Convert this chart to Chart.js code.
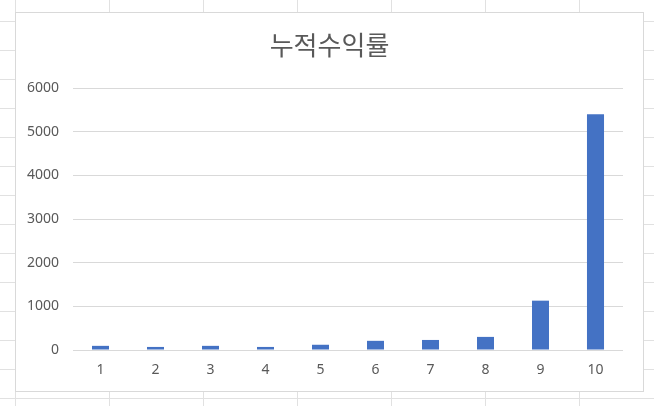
<!DOCTYPE html>
<html>
<head>
<meta charset="utf-8">
<script src="https://cdn.jsdelivr.net/npm/chart.js@4"></script>
<style>
  html, body {
    margin: 0;
    padding: 0;
    width: 654px;
    height: 406px;
    overflow: hidden;
    background-color: #ffffff;
    /* spreadsheet cell grid behind the chart */
    background-image:
      linear-gradient(to right, #e1e1e1 1px, transparent 1px),
      linear-gradient(to bottom, #e1e1e1 1px, transparent 1px);
    background-size: 94px 29px;
    background-position: 15px 21px;
  }
  #frame {
    position: absolute;
    left: 15px;
    top: 12px;
    width: 627px;
    height: 378px;
    background: #ffffff;
    border: 1px solid #d9d9d9;
  }
  #wrap {
    position: absolute;
    left: 0;
    top: 0;
    width: 654px;
    height: 406px;
  }
</style>
</head>
<body>
<div id="frame"></div>
<div id="wrap"><canvas id="chart"></canvas></div>
<script>
const chartTitle = "누적수익률";
const categories = ["1", "2", "3", "4", "5", "6", "7", "8", "9", "10"];
const returns = [95, 70, 95, 70, 120, 210, 230, 300, 1130, 5400];
const yTicks = [0, 1000, 2000, 3000, 4000, 5000, 6000];

const textColor = "#595959";
const gridColor = "#d9d9d9";
const barColor = "#4472c4";

// title centred over the chart frame, not over the plot area
const frameTitle = {
  id: "frameTitle",
  afterDraw(chart) {
    const ctx = chart.ctx;
    ctx.save();
    ctx.fillStyle = textColor;
    ctx.font = "26px 'Noto Sans CJK KR', 'Noto Sans', sans-serif";
    ctx.textAlign = "center";
    ctx.textBaseline = "middle";
    ctx.fillText(chartTitle, 329.5, 45);
    ctx.restore();
  },
};

new Chart(document.getElementById("chart"), {
  type: "bar",
  data: {
    labels: categories,
    datasets: [
      {
        label: chartTitle,
        data: returns,
        backgroundColor: barColor,
        borderWidth: 0,
        categoryPercentage: 1,
        barPercentage: 0.31,
      },
    ],
  },
  plugins: [frameTitle],
  options: {
    responsive: true,
    maintainAspectRatio: false,
    animation: false,
    devicePixelRatio: 1,
    layout: { padding: { top: 88, left: 0, right: 31, bottom: 0 } },
    plugins: {
      legend: { display: false },
      tooltip: { enabled: false },
      title: { display: false },
    },
    scales: {
      x: {
        grid: { display: false, drawTicks: false },
        border: { display: false },
        ticks: {
          color: textColor,
          padding: 12,
          maxRotation: 0,
          font: { family: "'Noto Sans', sans-serif", size: 14 },
        },
        afterFit: (scale) => { scale.height = 56; },
      },
      y: {
        min: yTicks[0],
        max: yTicks[yTicks.length - 1],
        afterBuildTicks: (scale) => {
          scale.ticks = yTicks.map((v) => ({ value: v }));
        },
        grid: { color: gridColor, lineWidth: 1, drawTicks: false },
        border: { display: false },
        ticks: {
          color: textColor,
          padding: 14,
          font: { family: "'Noto Sans', sans-serif", size: 14 },
          callback: (value) => String(value),
        },
        afterFit: (scale) => { scale.width = 73; },
      },
    },
  },
});
</script>
</body>
</html>
